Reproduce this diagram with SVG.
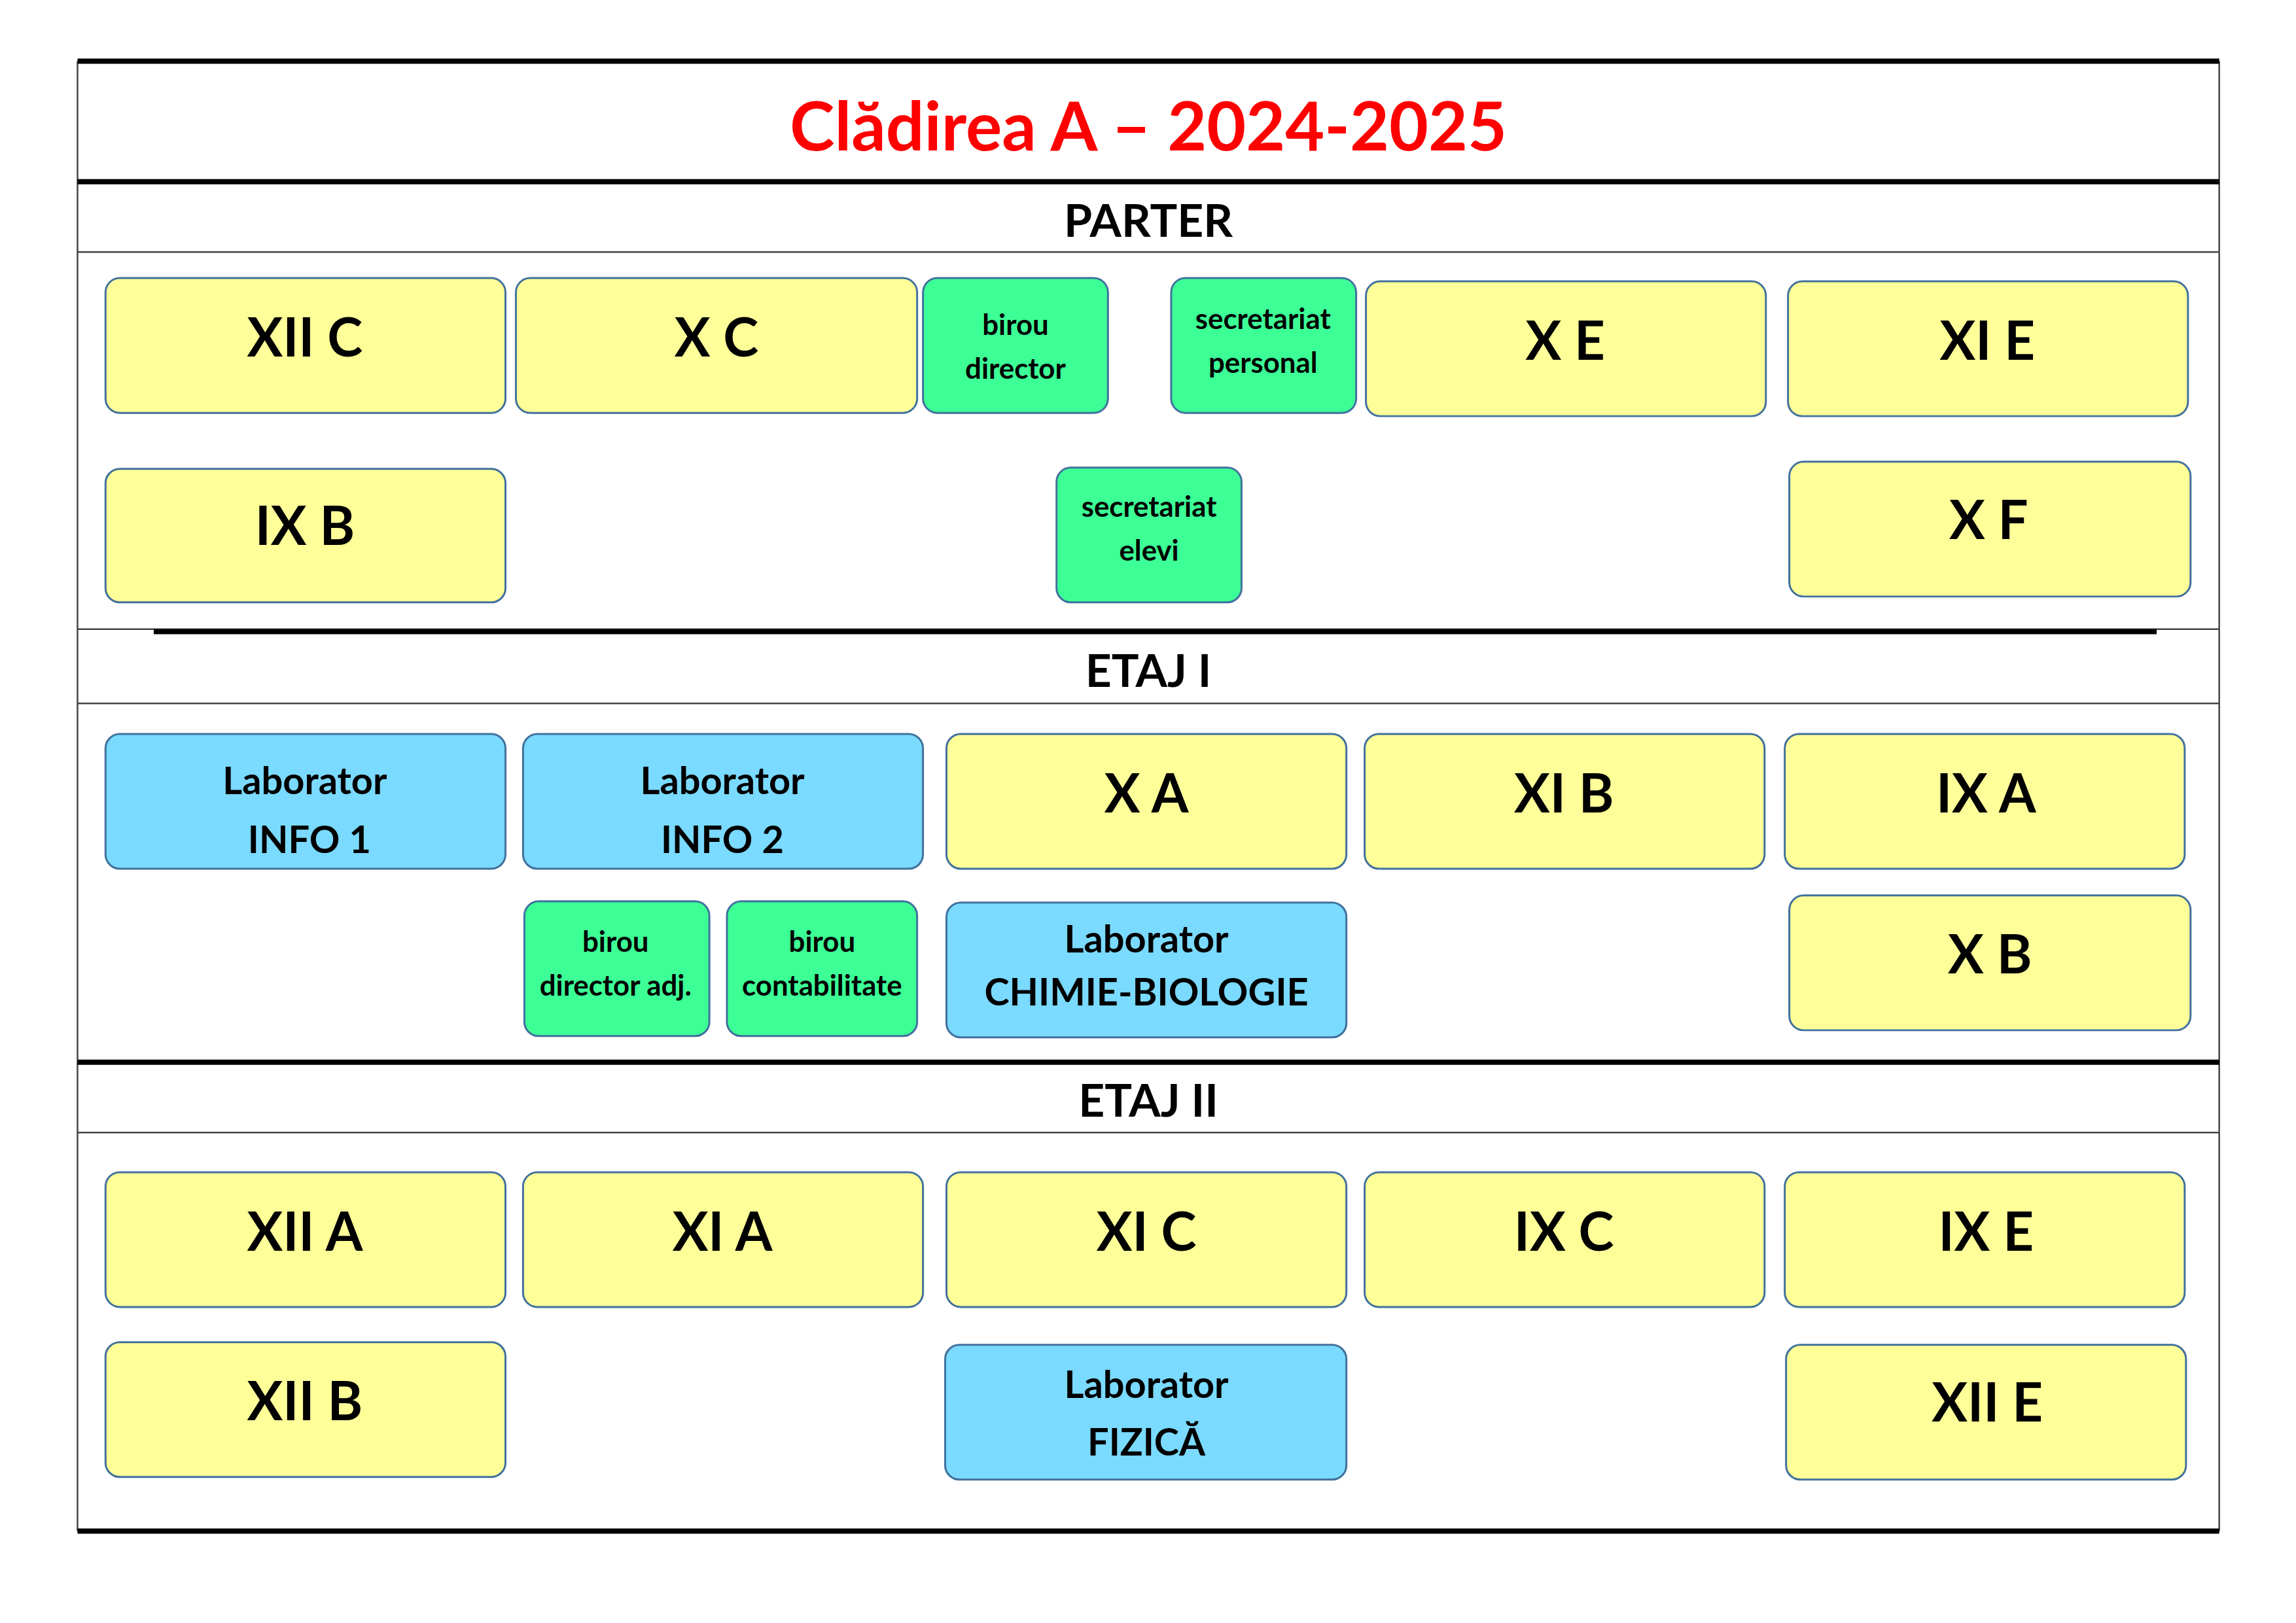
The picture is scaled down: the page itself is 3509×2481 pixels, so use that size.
<svg xmlns="http://www.w3.org/2000/svg" width="3509" height="2481" viewBox="0 0 3509 2481">
<style>
text{font-family:Lato,"Liberation Sans",sans-serif;font-weight:bold;text-anchor:middle;dominant-baseline:central;fill:#000}
.y{fill:#FFFF99;stroke:#41719C;stroke-width:3}
.g{fill:#3CFF96;stroke:#41719C;stroke-width:3}
.b{fill:#7ADAFF;stroke:#41719C;stroke-width:3}
.big{font-size:82px}
.sm{font-size:44px}
.md{font-size:58px}
.sec{font-size:70px}
.thick{stroke:#000;stroke-width:8}
.thin{stroke:#444;stroke-width:2.5}
</style>
<rect width="3509" height="2481" fill="#fff"/>
<g transform="scale(0.9955)">
<g id="frame">
<line class="thin" x1="119" y1="94" x2="119" y2="2351"/>
<line class="thin" x1="3407" y1="94" x2="3407" y2="2351"/>
<line class="thick" x1="119" y1="94" x2="3407" y2="94"/>
<line class="thick" x1="119" y1="279" x2="3407" y2="279"/>
<line class="thin" x1="119" y1="387" x2="3407" y2="387"/>
<line class="thin" x1="119" y1="966" x2="3407" y2="966"/>
<line class="thick" x1="236" y1="970" x2="3311" y2="970"/>
<line class="thin" x1="119" y1="1080" x2="3407" y2="1080"/>
<line class="thick" x1="119" y1="1631" x2="3407" y2="1631"/>
<line class="thin" x1="119" y1="1739" x2="3407" y2="1739"/>
<line class="thick" x1="119" y1="2351" x2="3407" y2="2351"/>
<text x="1763" y="191" style="font-size:104px;fill:#FF0000">Clădirea A – 2024-2025</text>
<text class="sec" x="1763" y="337">PARTER</text>
<text class="sec" x="1763" y="1028">ETAJ I</text>
<text class="sec" x="1763" y="1688">ETAJ II</text>
</g>
<g id="XIIC"><rect class="y" x="162" y="427" width="614" height="207" rx="22"/><text class="big" x="468" y="515">XII C</text></g>
<g id="XC"><rect class="y" x="792" y="427" width="616" height="207" rx="22"/><text class="big" x="1100" y="515">X C</text></g>
<g id="birouDirector"><rect class="g" x="1417" y="427" width="284" height="207" rx="22"/><text class="sm" x="1559" y="497">birou</text><text class="sm" x="1559" y="565">director</text></g>
<g id="secPersonal"><rect class="g" x="1798" y="427" width="284" height="207" rx="22"/><text class="sm" x="1939" y="488">secretariat</text><text class="sm" x="1939" y="556">personal</text></g>
<g id="XE"><rect class="y" x="2097" y="432" width="614" height="207" rx="22"/><text class="big" x="2403" y="520">X E</text></g>
<g id="XIE"><rect class="y" x="2745" y="432" width="614" height="207" rx="22"/><text class="big" x="3051" y="520">XI E</text></g>
<g id="IXB"><rect class="y" x="162" y="720" width="614" height="205" rx="22"/><text class="big" x="468" y="805">IX B</text></g>
<g id="secElevi"><rect class="g" x="1622" y="718" width="284" height="207" rx="22"/><text class="sm" x="1764" y="776">secretariat</text><text class="sm" x="1764" y="844">elevi</text></g>
<g id="XF"><rect class="y" x="2747" y="709" width="616" height="207" rx="22"/><text class="big" x="3053" y="796">X F</text></g>
<g id="INFO1"><rect class="b" x="162" y="1127" width="614" height="207" rx="22"/><text class="md" x="468" y="1197">Laborator</text><text class="md" x="475" y="1287">INFO 1</text></g>
<g id="INFO2"><rect class="b" x="803" y="1127" width="614" height="207" rx="22"/><text class="md" x="1109" y="1197">Laborator</text><text class="md" x="1109" y="1287">INFO 2</text></g>
<g id="XA"><rect class="y" x="1453" y="1127" width="614" height="207" rx="22"/><text class="big" x="1760" y="1215">X A</text></g>
<g id="XIB"><rect class="y" x="2095" y="1127" width="614" height="207" rx="22"/><text class="big" x="2401" y="1215">XI B</text></g>
<g id="IXA"><rect class="y" x="2740" y="1127" width="614" height="207" rx="22"/><text class="big" x="3049" y="1215">IX A</text></g>
<g id="birouDirAdj"><rect class="g" x="805" y="1384" width="284" height="207" rx="22"/><text class="sm" x="945" y="1444">birou</text><text class="sm" x="945" y="1512">director adj.</text></g>
<g id="birouContab"><rect class="g" x="1116" y="1384" width="292" height="207" rx="22"/><text class="sm" x="1262" y="1444">birou</text><text class="sm" x="1262" y="1512">contabilitate</text></g>
<g id="labChimie"><rect class="b" x="1453" y="1386" width="614" height="207" rx="22"/><text class="md" x="1760" y="1440">Laborator</text><text class="md" x="1760" y="1521">CHIMIE-BIOLOGIE</text></g>
<g id="XB"><rect class="y" x="2747" y="1375" width="616" height="207" rx="22"/><text class="big" x="3055" y="1463">X B</text></g>
<g id="XIIA"><rect class="y" x="162" y="1800" width="614" height="207" rx="22"/><text class="big" x="468" y="1888">XII A</text></g>
<g id="XIA"><rect class="y" x="803" y="1800" width="614" height="207" rx="22"/><text class="big" x="1109" y="1888">XI A</text></g>
<g id="XIC"><rect class="y" x="1453" y="1800" width="614" height="207" rx="22"/><text class="big" x="1760" y="1888">XI C</text></g>
<g id="IXC"><rect class="y" x="2095" y="1800" width="614" height="207" rx="22"/><text class="big" x="2401" y="1888">IX C</text></g>
<g id="IXE"><rect class="y" x="2740" y="1800" width="614" height="207" rx="22"/><text class="big" x="3049" y="1888">IX E</text></g>
<g id="XIIB"><rect class="y" x="162" y="2061" width="614" height="207" rx="22"/><text class="big" x="468" y="2149">XII B</text></g>
<g id="labFizica"><rect class="b" x="1451" y="2065" width="616" height="207" rx="22"/><text class="md" x="1760" y="2124">Laborator</text><text class="md" x="1760" y="2212">FIZICĂ</text></g>
<g id="XIIE"><rect class="y" x="2742" y="2065" width="614" height="207" rx="22"/><text class="big" x="3051" y="2151">XII E</text></g>
<g id="connectors"/>
</g>
</svg>
